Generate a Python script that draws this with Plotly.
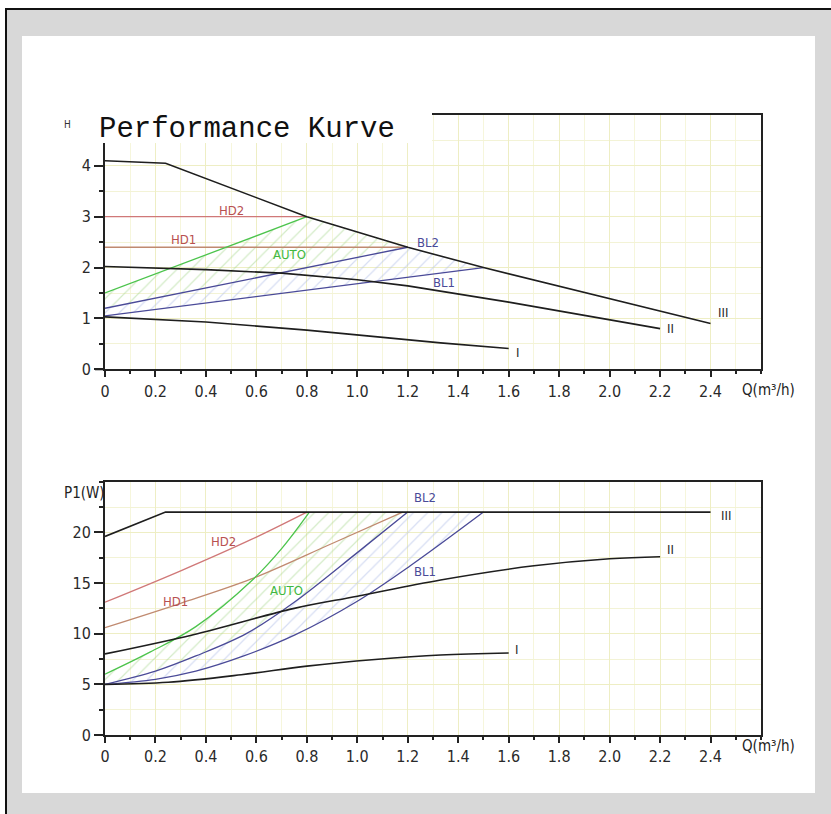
import plotly.graph_objects as go

W, H = 831, 814

# ---------------- data: head curves (H vs Q) ----------------
q_III_h = [0, 0.24, 0.8, 1.2, 1.5, 2.4]
h_III = [4.1, 4.05, 3.0, 2.4, 2.0, 0.9]
q_II_h = [0, 0.4, 0.7, 1.0, 1.2, 1.6, 2.2]
h_II = [2.02, 1.96, 1.89, 1.76, 1.64, 1.32, 0.8]
q_I_h = [0, 0.4, 0.8, 1.33, 1.6]
h_I = [1.03, 0.93, 0.77, 0.52, 0.41]
q_HD2_h = [0, 0.8]
h_HD2 = [3.0, 3.0]
q_HD1_h = [0, 1.2]
h_HD1 = [2.4, 2.4]
q_AUTO_h = [0, 0.8]
h_AUTO = [1.5, 3.0]
q_BL2_h = [0, 1.2]
h_BL2 = [1.2, 2.4]
q_BL1_h = [0, 1.5]
h_BL1 = [1.05, 2.0]

# ---------------- data: power curves (P1 vs Q) ----------------
q_III_p = [0, 0.24, 2.4]
p_III = [19.6, 22, 22]
q_II_p = [0, 0.35, 0.75, 1.0, 1.33, 1.7, 2.0, 2.2]
p_II = [8.0, 9.9, 12.5, 13.7, 15.3, 16.7, 17.4, 17.6]
q_I_p = [0, 0.25, 0.54, 0.8, 1.07, 1.33, 1.6]
p_I = [5.0, 5.2, 5.95, 6.8, 7.45, 7.9, 8.1]
q_HD2_p = [0, 0.3, 0.58, 0.8]
p_HD2 = [13.1, 16.2, 19.3, 22]
q_HD1_p = [0, 0.3, 0.58, 0.9, 1.18]
p_HD1 = [10.6, 13.0, 15.4, 18.9, 22]
q_AUTO_p = [0, 0.18, 0.36, 0.58, 0.7, 0.81]
p_AUTO = [6.0, 8.2, 10.7, 15.2, 18.4, 22]
q_BL2_p = [0, 0.2, 0.36, 0.56, 0.75, 1.0, 1.2]
p_BL2 = [5.0, 6.3, 7.8, 10.0, 13.1, 18.0, 22]
q_BL1_p = [0, 0.2, 0.36, 0.55, 0.755, 1.0, 1.21, 1.5]
p_BL1 = [5.0, 5.5, 6.3, 7.8, 9.9, 13.2, 16.7, 22]

x_ticks = [0, 0.2, 0.4, 0.6, 0.8, 1.0, 1.2, 1.4, 1.6, 1.8, 2.0, 2.2, 2.4]
x_ticktext = ["0", "0.2", "0.4", "0.6", "0.8", "1.0", "1.2", "1.4", "1.6", "1.8", "2.0", "2.2", "2.4"]
h_ticks = [0, 1, 2, 3, 4]
p_ticks = [0, 5, 10, 15, 20]

BLACK = "#1e1e1e"
RED2 = "#d07878"
RED1 = "#c08a70"
GREEN = "#4cc44c"
BLUE = "#4a4a98"
TICKFONT = dict(family="DejaVu Sans Condensed, Liberation Sans Narrow, sans-serif", size=16, color="#2a2a2a")
LBLFONT = "DejaVu Sans Condensed, Liberation Sans Narrow, sans-serif"

fig = go.Figure()


def poly(qa, ya, qb, yb, qtop, ytop, lo, hi):
    """polygon: curve a forward, top curve between lo..hi, curve b backward"""
    xs = list(qa) + [q for q in qtop if lo < q < hi] + list(qb)[::-1]
    ys = list(ya) + [y for q, y in zip(qtop, ytop) if lo < q < hi] + list(yb)[::-1]
    return xs, ys


def hatch(xs, ys, color, xa, ya):
    fig.add_trace(go.Scatter(x=xs, y=ys, xaxis=xa, yaxis=ya, mode="lines", fill="toself",
                             line=dict(width=0), fillcolor="rgba(0,0,0,0)",
                             fillpattern=dict(shape="/", fgcolor=color, bgcolor="rgba(255,255,255,0)",
                                              size=10, solidity=0.12),
                             hoverinfo="skip", showlegend=False))


# hatched regions - top
xs, ys = poly(q_AUTO_h, h_AUTO, q_BL2_h, h_BL2, q_III_h, h_III, 0.8, 1.2)
hatch(xs, ys, "#a8d890", "x", "y")
xs, ys = poly(q_BL2_h, h_BL2, q_BL1_h, h_BL1, q_III_h, h_III, 1.2, 1.5)
hatch(xs, ys, "#afbde8", "x", "y")
# hatched regions - bottom
xs, ys = poly(q_AUTO_p, p_AUTO, q_BL2_p, p_BL2, q_III_p, p_III, 0.81, 1.2)
hatch(xs, ys, "#a8d890", "x2", "y2")
xs, ys = poly(q_BL2_p, p_BL2, q_BL1_p, p_BL1, q_III_p, p_III, 1.2, 1.5)
hatch(xs, ys, "#afbde8", "x2", "y2")


def line(q, v, color, xa, ya, w=1.6, shape="linear"):
    fig.add_trace(go.Scatter(x=q, y=v, xaxis=xa, yaxis=ya, mode="lines",
                             line=dict(color=color, width=w, shape=shape, smoothing=1.0),
                             hoverinfo="skip", showlegend=False))


for q, v, c in [(q_HD2_h, h_HD2, RED2), (q_HD1_h, h_HD1, RED1), (q_AUTO_h, h_AUTO, GREEN),
                (q_BL2_h, h_BL2, BLUE), (q_BL1_h, h_BL1, BLUE)]:
    line(q, v, c, "x", "y", 1.3)
for q, v in [(q_III_h, h_III), (q_II_h, h_II), (q_I_h, h_I)]:
    line(q, v, BLACK, "x", "y")

for q, v, c in [(q_HD2_p, p_HD2, RED2), (q_HD1_p, p_HD1, RED1), (q_AUTO_p, p_AUTO, GREEN),
                (q_BL2_p, p_BL2, BLUE), (q_BL1_p, p_BL1, BLUE)]:
    line(q, v, c, "x2", "y2", 1.3, "spline")
line(q_III_p, p_III, BLACK, "x2", "y2")
for q, v in [(q_II_p, p_II), (q_I_p, p_I)]:
    line(q, v, BLACK, "x2", "y2", 1.6, "spline")

# curve labels
labels_top = [("HD2", 0.5, 3.12, "#b85050"), ("HD1", 0.31, 2.55, "#b85050"), ("AUTO", 0.73, 2.25, "#40b840"),
              ("BL2", 1.28, 2.5, BLUE), ("BL1", 1.345, 1.7, BLUE),
              ("III", 2.45, 1.12, BLACK), ("II", 2.24, 0.8, BLACK), ("I", 1.635, 0.34, BLACK)]
labels_bot = [("HD2", 0.47, 19.1, "#b85050"), ("HD1", 0.28, 13.2, "#b85050"), ("AUTO", 0.72, 14.3, "#40b840"),
              ("BL2", 1.27, 23.4, BLUE), ("BL1", 1.27, 16.1, BLUE),
              ("III", 2.46, 21.7, BLACK), ("II", 2.24, 18.3, BLACK), ("I", 1.63, 8.4, BLACK)]
for t, x, y, c in labels_top:
    fig.add_annotation(x=x, y=y, xref="x", yref="y", text=t, showarrow=False,
                       font=dict(family=LBLFONT, size=13, color=c))
for t, x, y, c in labels_bot:
    fig.add_annotation(x=x, y=y, xref="x2", yref="y2", text=t, showarrow=False,
                       font=dict(family=LBLFONT, size=13, color=c))


def px_x(p):
    return p / W


def px_y(p):
    return 1 - p / H


# background frames
shapes = [
    dict(type="rect", xref="paper", yref="paper", x0=px_x(6), x1=px_x(840), y0=px_y(830), y1=px_y(9),
         line=dict(color="#111111", width=2), fillcolor="#d8d8d8", layer="below"),
    dict(type="rect", xref="paper", yref="paper", x0=px_x(22), x1=px_x(815), y0=px_y(793), y1=px_y(36),
         line=dict(width=0), fillcolor="white", layer="below"),
    # white title box covering the top-left of the head chart
    dict(type="rect", xref="paper", yref="paper", x0=px_x(95), x1=px_x(432), y0=px_y(143), y1=px_y(104),
         line=dict(width=0), fillcolor="white", layer="above"),
    # axis line stub left of origin
    dict(type="line", xref="paper", yref="paper", x0=px_x(95), x1=px_x(105), y0=px_y(369.3), y1=px_y(369.3),
         line=dict(color="#222222", width=2)),
    dict(type="line", xref="paper", yref="paper", x0=px_x(95), x1=px_x(105), y0=px_y(735), y1=px_y(735),
         line=dict(color="#222222", width=2)),
]
fig.update_layout(shapes=shapes)

fig.add_annotation(x=px_x(97), y=px_y(129), xref="paper", yref="paper", xanchor="left", yanchor="middle",
                   text="Performance Kurve", showarrow=False,
                   font=dict(family="Liberation Mono, DejaVu Sans Mono, monospace", size=29, color="#111111"))
fig.add_annotation(x=px_x(62), y=px_y(117), xref="paper", yref="paper", text="H", showarrow=False,
                   font=dict(family=LBLFONT, size=10, color="#333333"))
fig.add_annotation(x=px_x(107), y=px_y(493), xref="paper", yref="paper", xanchor="right", text="P1(W)",
                   showarrow=False, font=dict(family=LBLFONT, size=15, color="#222222"))
for yy in (390, 757):
    fig.add_annotation(x=px_x(740), y=px_y(yy), xref="paper", yref="paper", xanchor="left", text="Q(m³/h)",
                       showarrow=False, font=dict(family=LBLFONT, size=15, color="#222222"))

xdom = [px_x(105), px_x(761)]
common_x = dict(range=[0, 2.6], domain=xdom, tickmode="array", tickvals=x_ticks, ticktext=x_ticktext,
                showline=True, linecolor="#222222", linewidth=2, mirror=True,
                ticks="outside", ticklen=6, tickwidth=1.5, tickcolor="#222222", tickfont=TICKFONT,
                showgrid=True, gridcolor="#eeeec4", gridwidth=1, zeroline=False, fixedrange=True,
                minor=dict(dtick=0.1, tick0=0, ticks="outside", ticklen=3, tickcolor="#222222",
                           showgrid=True, gridcolor="#f6f6dc"))
fig.update_layout(
    width=W, height=H, margin=dict(l=0, r=0, t=0, b=0, pad=0, autoexpand=False),
    paper_bgcolor="white", plot_bgcolor="#fffff6", showlegend=False,
    xaxis=dict(**common_x, anchor="y"),
    xaxis2=dict(**common_x, anchor="y2"),
    yaxis=dict(range=[0, 5], domain=[px_y(369.3), px_y(115)], tickvals=h_ticks, anchor="x",
               showline=True, linecolor="#222222", linewidth=2, mirror=True,
               ticks="outside", ticklen=9, tickwidth=1.5, tickcolor="#222222", tickfont=TICKFONT,
               showgrid=True, gridcolor="#eeeec4", zeroline=False, fixedrange=True,
               minor=dict(dtick=0.5, tick0=0, ticks="outside", ticklen=4, tickcolor="#222222",
                          showgrid=True, gridcolor="#f3f3d6")),
    yaxis2=dict(range=[0, 25], domain=[px_y(735), px_y(481.7)], tickvals=p_ticks, anchor="x2",
                showline=True, linecolor="#222222", linewidth=2, mirror=True,
                ticks="outside", ticklen=9, tickwidth=1.5, tickcolor="#222222", tickfont=TICKFONT,
                showgrid=True, gridcolor="#eeeec4", zeroline=False, fixedrange=True,
                minor=dict(dtick=2.5, tick0=0, ticks="outside", ticklen=4, tickcolor="#222222",
                           showgrid=True, gridcolor="#f3f3d6")),
)

fig.write_html("out.html", config={"displayModeBar": False},
               post_script="document.body.style.margin='0';document.body.style.overflow='hidden';"
                           "document.documentElement.style.overflow='hidden';")
